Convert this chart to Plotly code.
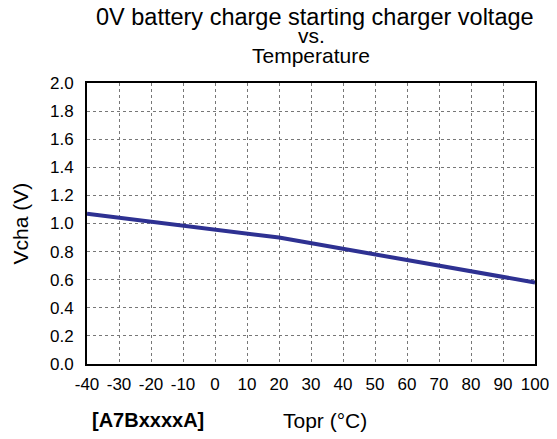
import plotly.graph_objects as go

# Operating temperature (°C) and 0V charge start voltage (V)
topr = [-40, 0, 20, 60, 100]
vcha = [1.07, 0.96, 0.90, 0.74, 0.58]

x_ticks = list(range(-40, 101, 10))
y_ticks = [round(0.2 * i, 1) for i in range(11)]

title_lines = ["0V battery charge starting charger voltage", "vs.", "Temperature"]

font_family = "Liberation Sans, Arial, sans-serif"

fig = go.Figure()
fig.add_trace(go.Scatter(x=topr, y=vcha, mode="lines",
                         line=dict(color="#2E3192", width=4),
                         showlegend=False))

axis_common = dict(showgrid=True, gridcolor="#777777", griddash="dot", gridwidth=1,
                   showline=True, linecolor="black", linewidth=2, mirror=True,
                   tickcolor="rgba(0,0,0,0)", ticks="outside",
                   zeroline=False, tickfont=dict(size=17), automargin=False)

# the page body adds an 8px offset, so the figure is a bit smaller than the window
annotations = []
for line, shift, xpos, size in zip(title_lines, [66, 48, 28], [0.509, 0.5, 0.5], [23.5, 21, 21]):
    annotations.append(dict(text=line, xref="paper", yref="paper", x=xpos, y=1.0,
                            yshift=shift, xanchor="center", yanchor="middle",
                            showarrow=False, font=dict(size=size)))
annotations += [
    dict(text="Vcha (V)", xref="paper", yref="paper", textangle=-90,
         x=0, xshift=-67, y=0.5, xanchor="center", yanchor="middle",
         showarrow=False, font=dict(size=21)),
    dict(text="<b>[A7BxxxxA]</b>", xref="paper", yref="paper",
         x=0, y=0, xshift=3, yshift=-56, xanchor="left", yanchor="middle",
         showarrow=False, font=dict(size=20)),
    dict(text="Topr (°C)", xref="paper", yref="paper",
         x=0.531, y=0, yshift=-56, xanchor="center", yanchor="middle",
         showarrow=False, font=dict(size=21)),
]

fig.update_layout(
    width=549, height=431,
    margin=dict(l=79, r=22, t=75, b=75),
    paper_bgcolor="white", plot_bgcolor="white",
    font=dict(family=font_family, size=17, color="black"),
    xaxis=dict(range=[-40, 100], tickvals=x_ticks, ticktext=[str(v) for v in x_ticks],
               ticklen=4, **axis_common),
    yaxis=dict(range=[0, 2.0], tickvals=y_ticks, ticktext=[f"{v:.1f}" for v in y_ticks],
               ticklen=8, **axis_common),
    annotations=annotations,
)

fig.write_html("out.html")
